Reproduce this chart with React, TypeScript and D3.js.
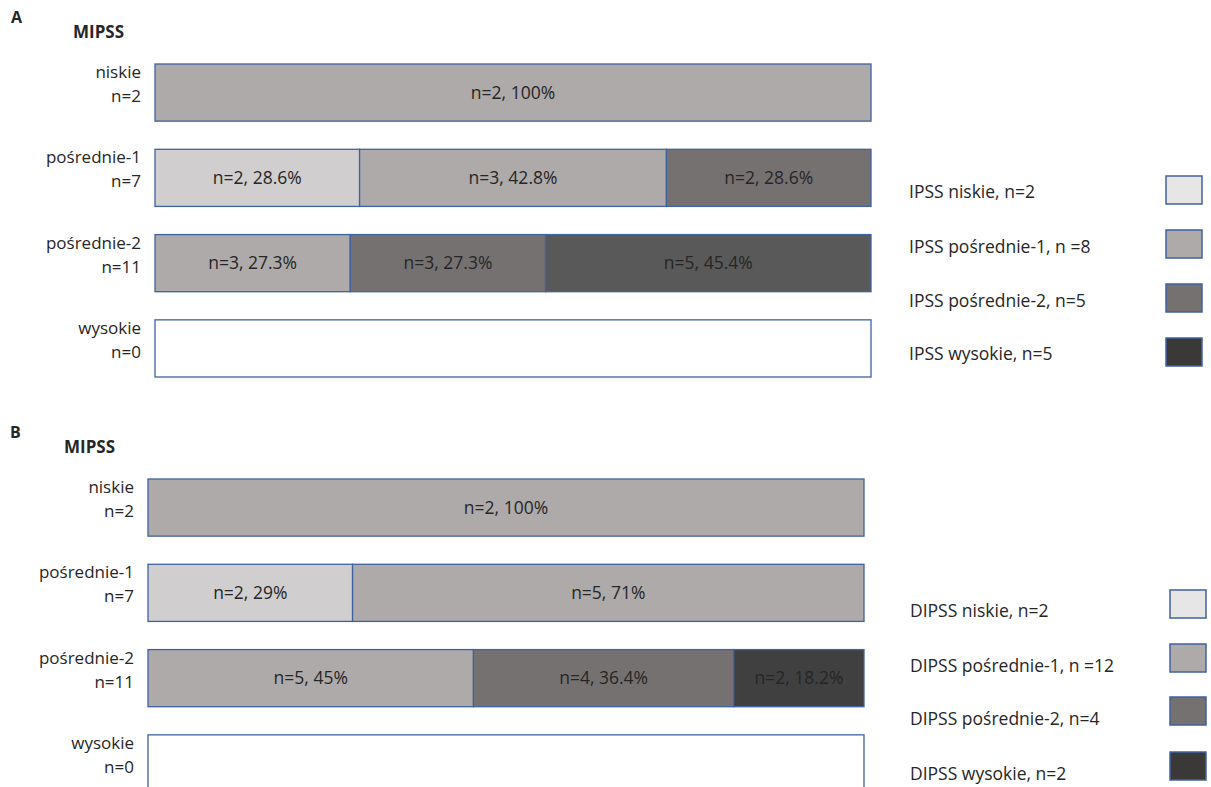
import React from 'react';
import * as d3 from 'd3';

// MIPSS rows
const categories = ['niskie', 'pośrednie-1', 'pośrednie-2', 'wysokie'];
const categoryN = [2, 7, 11, 0];

// panel A: IPSS split per MIPSS row (niskie, pośr-1, pośr-2, wysokie)
const ipssCounts = [
  [0, 2, 0, 0],
  [2, 3, 2, 0],
  [0, 3, 3, 5],
  [0, 0, 0, 0],
];
const ipssPct = [
  ['', '100%', '', ''],
  ['28.6%', '42.8%', '28.6%', ''],
  ['', '27.3%', '27.3%', '45.4%'],
  ['', '', '', ''],
];
const ipssLegend = ['IPSS niskie, n=2', 'IPSS pośrednie-1, n =8', 'IPSS pośrednie-2, n=5', 'IPSS wysokie, n=5'];

// panel B: DIPSS split
const dipssCounts = [
  [0, 2, 0, 0],
  [2, 5, 0, 0],
  [0, 5, 4, 2],
  [0, 0, 0, 0],
];
const dipssPct = [
  ['', '100%', '', ''],
  ['29%', '71%', '', ''],
  ['', '45%', '36.4%', '18.2%'],
  ['', '', '', ''],
];
const dipssLegend = ['DIPSS niskie, n=2', 'DIPSS pośrednie-1, n =12', 'DIPSS pośrednie-2, n=4', 'DIPSS wysokie, n=2'];

const ipssColors = ['#d0cece', '#aeaaaa', '#767171', '#595959'];
const ipssLegendColors = ['#e7e6e6', '#aeaaaa', '#767171', '#3b3838'];
const dipssColors = ['#d0cece', '#aeaaaa', '#767171', '#404040'];
const dipssLegendColors = ['#e7e6e6', '#aeaaaa', '#767171', '#3b3838'];

const FONT = '"Open Sans", sans-serif';
const BORDER = '#3f62a0';
const TEXT = '#262626';

type PanelProps = {
  letter: string;
  letterPos: [number, number];
  titlePos: [number, number];
  labelRight: number;
  barX: [number, number];
  barY: [number, number];
  counts: number[][];
  pct: string[][];
  colors: string[];
  legend: string[];
  legendColors: string[];
  legendTextX: number;
  legendBaseY: number[];
  legendBoxX: number;
  legendBoxY: number[];
};

const Panel = (p: PanelProps) => {
  const y = d3.scaleBand<string>().domain(categories).range(p.barY).paddingInner(0.33).paddingOuter(0);
  const bh = y.bandwidth();
  return (
    <g fontFamily={FONT} fill={TEXT}>
      <text x={p.letterPos[0]} y={p.letterPos[1]} fontWeight="bold" fontSize={16}>{p.letter}</text>
      <text x={p.titlePos[0]} y={p.titlePos[1]} fontWeight="bold" fontSize={17}>MIPSS</text>
      {categories.map((c, i) => {
        const top = y(c)!;
        const total = d3.sum(p.counts[i]);
        const x = d3.scaleLinear().domain([0, total || 1]).range(p.barX);
        const cum = [0, ...d3.cumsum(p.counts[i])];
        return (
          <g key={c}>
            <text x={p.labelRight} y={top + 14} textAnchor="end" fontSize={17}>{c}</text>
            <text x={p.labelRight} y={top + 38} textAnchor="end" fontSize={17}>n={categoryN[i]}</text>
            {total === 0 && (
              <rect x={p.barX[0]} y={top} width={p.barX[1] - p.barX[0]} height={bh}
                fill="#fff" stroke={BORDER} strokeWidth={1.3} />
            )}
            {p.counts[i].map((v, j) => v > 0 && (
              <g key={j}>
                <rect x={x(cum[j])} y={top} width={x(cum[j + 1]) - x(cum[j])} height={bh}
                  fill={p.colors[j]} stroke={BORDER} strokeWidth={1.3} />
                <text x={(x(cum[j]) + x(cum[j + 1])) / 2} y={top + bh / 2 + 6} textAnchor="middle"
                  fontSize={17.5}>{`n=${v}, ${p.pct[i][j]}`}</text>
              </g>
            ))}
          </g>
        );
      })}
      {p.legend.map((l, k) => (
        <g key={l}>
          <text x={p.legendTextX} y={p.legendBaseY[k]} fontSize={17.5}>{l}</text>
          <rect x={p.legendBoxX} y={p.legendBoxY[k]} width={36} height={28}
            fill={p.legendColors[k]} stroke={BORDER} strokeWidth={1.5} />
        </g>
      ))}
    </g>
  );
};

export default function App() {
  return (
    <svg width={1211} height={787} style={{ position: 'absolute', left: 0, top: 0, background: '#fff' }}>
      <Panel letter="A" letterPos={[11, 23]} titlePos={[73, 38]} labelRight={141}
        barX={[155, 871]} barY={[64, 377]}
        counts={ipssCounts} pct={ipssPct} colors={ipssColors}
        legend={ipssLegend} legendColors={ipssLegendColors}
        legendTextX={909} legendBaseY={[198, 253, 307, 360]}
        legendBoxX={1166} legendBoxY={[176, 230, 284, 338]} />
      <Panel letter="B" letterPos={[10, 438]} titlePos={[64, 453]} labelRight={134}
        barX={[148, 864]} barY={[479, 792]}
        counts={dipssCounts} pct={dipssPct} colors={dipssColors}
        legend={dipssLegend} legendColors={dipssLegendColors}
        legendTextX={910} legendBaseY={[617, 672, 725, 780]}
        legendBoxX={1170} legendBoxY={[590, 644, 697, 752]} />
    </svg>
  );
}
